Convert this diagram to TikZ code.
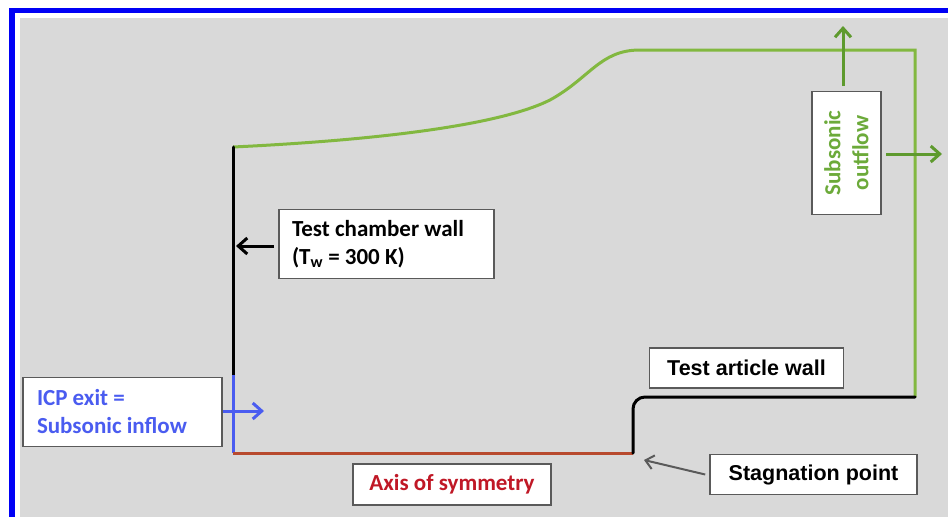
\documentclass[tikz,border=0pt]{standalone}
\usepackage{fontspec}
\setmainfont{Carlito}
\newfontfamily\arialish{Liberation Sans}
\usetikzlibrary{arrows.meta}
\definecolor{bg}{HTML}{D9D9D9}
\definecolor{frameblue}{HTML}{0000F5}
\definecolor{inblue}{HTML}{4A5CF0}
\definecolor{axred}{HTML}{B84A2E}
\definecolor{txtred}{HTML}{C01826}
\definecolor{lgreen}{HTML}{82B840}
\definecolor{dgreen}{HTML}{5E9A2E}
\definecolor{txtgreen}{HTML}{6CAA3A}
\definecolor{boxgray}{HTML}{5A5A5A}
\tikzset{
  lbl/.style={draw=boxgray, line width=1.6pt, fill=white, font=\bfseries\fontsize{23}{28}\selectfont, inner sep=0pt},
  albl/.style={lbl, font=\arialish\bfseries\fontsize{21.5}{24}\selectfont},
  wall/.style={line width=3pt, line cap=round},
  harrow/.style={line width=3pt, -{Straight Barb[length=9pt,width=16pt,line width=3pt]}}
}
\begin{document}
\begin{tikzpicture}[x=1pt,y=-1pt]
\useasboundingbox (0,0) rectangle (948,517);
\fill[white] (0,0) rectangle (948,517);
\fill[bg] (20,18) rectangle (948,517);
\fill[frameblue] (9,8) rectangle (948,13);
\fill[frameblue] (9,8) rectangle (15,517);
% geometry
\coordinate (cwtop) at (233,147);
\coordinate (cwbot) at (233,375);
\coordinate (axl) at (233,453);
\coordinate (axr) at (633,453);
\coordinate (tar) at (915,397);
\coordinate (gtr) at (915,50);
\draw[lgreen, line width=3pt] (cwtop) .. controls (380,140) and (500,125) .. (550,100)
  .. controls (590,78) and (600,50) .. (640,50) -- (gtr) -- (tar);
\draw[wall, black] (cwtop) -- (cwbot);
\draw[inblue, line width=3pt] (cwbot) -- (axl);
\draw[axred, line width=3pt] (axl) -- (axr);
\draw[wall, black, rounded corners=12pt] (tar) -- (633,397) -- (axr);
% labels
\node[lbl, minimum width=215, minimum height=69, text width=189, align=flush left] (tcw) at (386.5,244)
  {Test chamber wall\\(T\textsubscript{w} = 300 K)};
\node[lbl, minimum width=199, minimum height=69, text width=171, align=flush left, text=inblue] (icp) at (122.5,412)
  {ICP exit =\\Subsonic inflow};
\node[lbl, minimum width=198, minimum height=41, text=txtred] (axs) at (452,484.5) {Axis of symmetry};
\node[albl, minimum width=194, minimum height=40] (taw) at (746.5,368) {Test article wall};
\node[albl, minimum width=207, minimum height=40] (stag) at (813.5,474.5) {Stagnation point};
\node[lbl, minimum width=123, minimum height=69, rotate=90, text=txtgreen, align=center] (out) at (846.5,153)
  {Subsonic\\outflow};
% arrows
\coordinate (tcwtip) at (236,246);
\draw[harrow, black] (tcw.west |- tcwtip) ++(-4,0) -- (tcwtip);
\coordinate (icptip) at (264,411);
\draw[harrow, inblue] (icp.east |- icptip) -- (icptip);
\coordinate (stagtip) at (644,460);
\draw[line width=2pt, boxgray, -{Straight Barb[length=8pt,width=14pt,line width=2pt]}] (stag.west) ++(-4,0) -- (stagtip);
\coordinate (uptip) at (843,26);
\draw[harrow, dgreen] (out.east |- 0,86) ++(-3.5,0) -- (uptip);
\coordinate (rtip) at (942,154);
\draw[harrow, dgreen] (886,154) -- (rtip);
\end{tikzpicture}
\end{document}
